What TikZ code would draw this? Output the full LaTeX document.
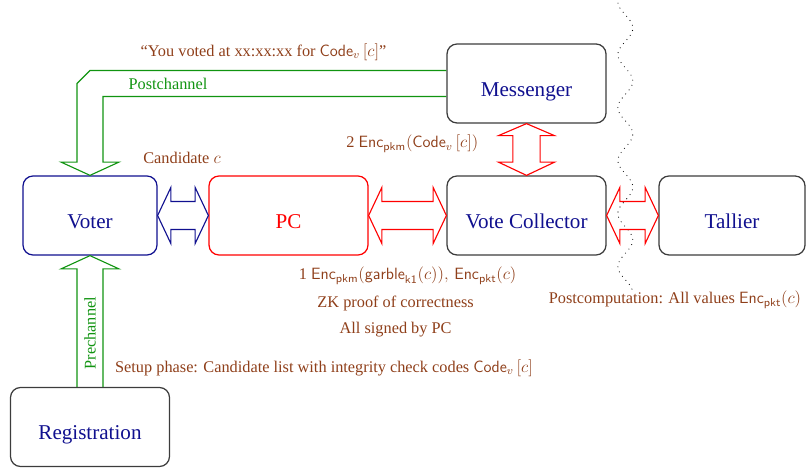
\documentclass[tikz,border=0pt]{standalone}
\usepackage{fontspec}
\setmainfont{Liberation Serif}
\usepackage{xcolor}
\usepackage{tikz}
\usetikzlibrary{calc}
\definecolor{kbrown}{HTML}{8F3F1A}
\definecolor{knavy}{HTML}{10108F}
\definecolor{kgreen}{HTML}{119411}
\definecolor{kgray}{HTML}{3C3C3C}

\begin{document}
\begin{tikzpicture}[x=1cm, y=1cm,
  box/.style={rectangle, rounded corners=0.25cm, draw=kgray, line width=0.9pt, text=knavy,
    minimum height=1.975cm, inner sep=0pt, text height=18pt, text depth=0pt,
    font=\fontsize{15}{18}\selectfont},
  lbl/.style={text=kbrown, font=\fontsize{11.6}{14}\selectfont},
  fatarrow/.style={line width=0.8pt, line join=miter},
  wave/.style={line width=0.8pt, line cap=round, dash pattern=on 0pt off 3.8pt}]
\useasboundingbox (0,0) rectangle (20.3,11.75);
% boxes
\node[box, draw=knavy, minimum width=3.35cm] (voter) at (2.25,6.3625) {Voter};
\node[box, draw=red, text=red, minimum width=3.975cm] (pc) at (7.2125,6.3625) {PC};
\node[box, minimum width=3.975cm] (vc) at (13.1625,6.3625) {Vote Collector};
\node[box, minimum width=3.65cm] (tallier) at (18.3,6.3625) {Tallier};
\node[box, minimum width=3.975cm] (msg) at (13.1625,9.6625) {Messenger};
\node[box, minimum width=3.975cm] (reg) at (2.25,1.075) {Registration};
% trust border
\draw[wave] plot[domain=3:292, samples=120, smooth]
  ({0.025*(625.5+7.5*cos(6.7925*(\x-28)))}, {0.025*(470-\x)});
% fat arrows
\draw[fatarrow, draw=knavy] (voter.east) -- +(0.33,0.7) -- +(0.33,0.35)
  -- ($(pc.west)+(-0.33,0.35)$) -- ($(pc.west)+(-0.33,0.7)$) -- (pc.west)
  -- +(-0.33,-0.7) -- +(-0.33,-0.35) -- ($(voter.east)+(0.33,-0.35)$)
  -- ($(voter.east)+(0.33,-0.7)$) -- cycle;
\draw[fatarrow, draw=red] (pc.east) -- +(0.33,0.7) -- +(0.33,0.35)
  -- ($(vc.west)+(-0.33,0.35)$) -- ($(vc.west)+(-0.33,0.7)$) -- (vc.west)
  -- +(-0.33,-0.7) -- +(-0.33,-0.35) -- ($(pc.east)+(0.33,-0.35)$)
  -- ($(pc.east)+(0.33,-0.7)$) -- cycle;
\draw[fatarrow, draw=red] (vc.east) -- +(0.33,0.7) -- +(0.33,0.35)
  -- ($(tallier.west)+(-0.33,0.35)$) -- ($(tallier.west)+(-0.33,0.7)$) -- (tallier.west)
  -- +(-0.33,-0.7) -- +(-0.33,-0.35) -- ($(vc.east)+(0.33,-0.35)$)
  -- ($(vc.east)+(0.33,-0.7)$) -- cycle;
\draw[fatarrow, draw=red] (msg.south) -- +(0.7,-0.3) -- +(0.34,-0.3)
  -- ($(vc.north)+(0.34,0.33)$) -- ($(vc.north)+(0.7,0.33)$) -- (vc.north)
  -- +(-0.7,0.33) -- +(-0.34,0.33) -- ($(msg.south)+(-0.34,-0.3)$)
  -- ($(msg.south)+(-0.7,-0.3)$) -- cycle;
\draw[fatarrow, draw=kgreen] ($(reg.north)+(-0.325,0)$) -- ($(voter.south)+(-0.325,-0.33)$)
  -- ($(voter.south)+(-0.72,-0.33)$) -- (voter.south) -- +(0.72,-0.33) -- +(0.325,-0.33)
  -- ($(reg.north)+(0.325,0)$);
\draw[fatarrow, draw=kgreen] ($(msg.west)+(0,0.325)$) -- ($(voter.north |- msg.west)+(0,0.325)$)
  -- ($(voter.north |- msg.west)+(-0.325,0)$) -- ($(voter.north)+(-0.325,0.33)$)
  -- ($(voter.north)+(-0.72,0.33)$) -- (voter.north) -- +(0.72,0.33) -- +(0.325,0.33)
  -- ($(voter.north |- msg.west)+(0.325,-0.325)$) -- ($(msg.west)+(0,-0.325)$);
% labels
\node[lbl, text=kgreen, rotate=90] (pre) at (2.25,3.42) {Prechannel};
\node[lbl, text=kgreen] (post) at (4.2,9.65) {Postchannel};
\node[lbl] (voted) at (6.5875,10.45) {``You voted at xx:xx:xx for $\mathsf{Code}_v\,[c]$''};
\node[lbl] (cand) at (4.55,7.8) {Candidate $c$};
\node[lbl] (step2) at (10.31,8.15) {2 $\mathsf{Enc}_{\mathsf{pkm}}(\mathsf{Code}_v\,[c])$};
\node[lbl] (step1) at (10.19,4.85) {1 $\mathsf{Enc}_{\mathsf{pkm}}(\mathsf{garble}_{\mathsf{k1}}(c)),\, \mathsf{Enc}_{\mathsf{pkt}}(c)$};
\node[lbl] (zk) at (9.89,4.175) {ZK proof of correctness};
\node[lbl] (signed) at (9.89,3.5) {All signed by PC};
\node[lbl] (setup) at (8.1,2.55) {Setup phase: Candidate list with integrity check codes $\mathsf{Code}_v\,[c]$};
\node[lbl] (postc) at (16.875,4.25) {Postcomputation: All values $\mathsf{Enc}_{\mathsf{pkt}}(c)$};
\end{tikzpicture}
\end{document}
